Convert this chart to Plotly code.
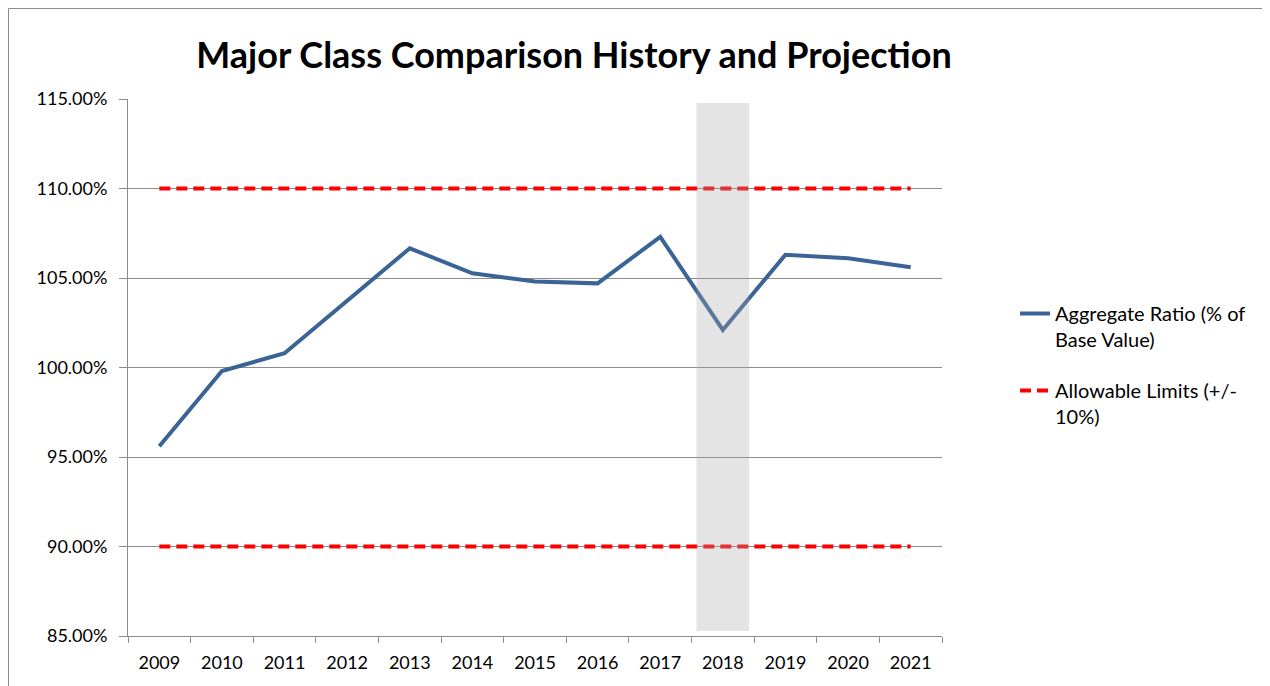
import plotly.graph_objects as go

years = ["2009", "2010", "2011", "2012", "2013", "2014", "2015", "2016", "2017", "2018", "2019", "2020", "2021"]
aggregate_ratio = [95.6, 99.8, 100.8, 103.7, 106.66, 105.26, 104.8, 104.7, 107.3, 102.1, 106.3, 106.1, 105.6]
upper_limit = [110.0] * len(years)
lower_limit = [90.0] * len(years)
highlight_year = "2018"
band_low, band_high = 85.28, 114.78

FONT = "Lato, Carlito, Calibri, sans-serif"
GRID = "#8c8c8c"

W, H = 1262, 678
L, R, T, B = 120, 328, 91, 50
PW, PH = W - L - R, H - T - B

fig = go.Figure()
fig.add_trace(go.Scatter(
    x=years, y=aggregate_ratio, mode="lines",
    name="Aggregate Ratio (% of<br>Base Value)",
    line=dict(color="#3B6496", width=4), legendgroup="a",
))
fig.add_trace(go.Scatter(
    x=years, y=upper_limit, mode="lines",
    name="Allowable Limits (+/-<br>10%)",
    line=dict(color="#FF0000", width=4, dash="11px,6px"), legendgroup="b",
))
fig.add_trace(go.Scatter(
    x=years, y=lower_limit, mode="lines", showlegend=False,
    line=dict(color="#FF0000", width=4, dash="11px,6px"), legendgroup="b",
))

hi = years.index(highlight_year)
fig.add_shape(type="rect", xref="x", yref="y", x0=hi - 0.42, x1=hi + 0.42,
              y0=band_low, y1=band_high, fillcolor="rgba(165,165,165,0.3)",
              line=dict(width=0), layer="above")

# outer chart border
fig.add_shape(type="rect", xref="paper", yref="paper",
              x0=(0.5 - L) / PW, x1=(W + 10 - L) / PW,
              y0=-(B + 10) / PH, y1=1 + (T - 0.5) / PH,
              line=dict(color="#8c8c8c", width=1), fillcolor="rgba(0,0,0,0)", layer="below")

fig.update_layout(
    width=W, height=H,
    margin=dict(l=L, r=R, t=T, b=B),
    paper_bgcolor="white", plot_bgcolor="white",
    font=dict(family=FONT, size=18, color="#000000"),
    title=dict(text="<b>Major Class Comparison History and Projection</b>",
               x=566 / W, xanchor="center", y=1 - 47 / H, yanchor="middle",
               font=dict(family=FONT, size=36, color="#000000")),
    legend=dict(x=(1007 - L) / PW, xanchor="left", y=(T + PH - 286) / PH, yanchor="top",
                font=dict(family=FONT, size=20), tracegroupgap=22, traceorder="grouped",
                valign="top", bgcolor="rgba(0,0,0,0)"),
    showlegend=True,
)
fig.update_xaxes(
    type="category", tickson="boundaries", ticks="outside", ticklen=6, tickcolor=GRID,
    showline=True, linecolor=GRID, linewidth=1, showgrid=False, ticklabelstandoff=10,
    tickfont=dict(family=FONT, size=18), range=[-0.5, len(years) - 0.5],
)
fig.update_yaxes(
    range=[85, 115], dtick=5, tick0=85, tickformat=".2f", ticksuffix="%",
    ticks="outside", ticklen=8, tickcolor=GRID, ticklabelstandoff=8,
    showline=True, linecolor=GRID, linewidth=1,
    showgrid=True, gridcolor=GRID, gridwidth=1, zeroline=False,
    tickfont=dict(family=FONT, size=18),
)

fig.write_html("out.html")
